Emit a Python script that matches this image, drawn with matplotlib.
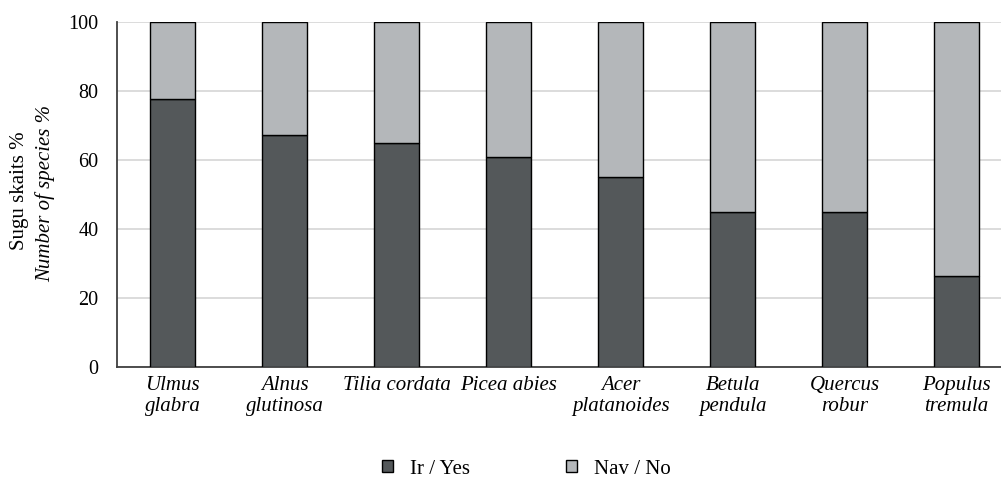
import matplotlib.pyplot as plt
import numpy as np

species = ['Ulmus\nglabra', 'Alnus\nglutinosa', 'Tilia cordata', 'Picea abies',
           'Acer\nplatanoides', 'Betula\npendula', 'Quercus\nrobur', 'Populus\ntremula']
yes_pct = [77.6, 67.3, 65.1, 61.0, 55.2, 44.9, 44.9, 26.4]
no_pct = [100 - v for v in yes_pct]
y_ticks = [0, 20, 40, 60, 80, 100]

plt.rcParams['font.family'] = ['Liberation Serif', 'DejaVu Serif']

W, H = 1001, 478
fig = plt.figure(figsize=(W / 100, H / 100), dpi=100)
# plot area runs past the right edge of the picture, as in the reference
left, right, bottom, top = 116.7, 1012.7, 367.3, 22.1
ax = fig.add_axes([left / W, 1 - bottom / H, (right - left) / W, (bottom - top) / H])

x = np.arange(len(species))
bw = 45.3 / 112
ax.bar(x, yes_pct, width=bw, color='#54585a', edgecolor='black', linewidth=1.0,
       label='Ir / Yes', zorder=3)
ax.bar(x, no_pct, width=bw, bottom=yes_pct, color='#b4b7ba', edgecolor='black',
       linewidth=1.0, label='Nav / No', zorder=3)

ax.set_xlim(-0.5, len(species) - 0.5)
ax.set_ylim(0, 100)
ax.set_yticks(y_ticks)
ax.yaxis.grid(True, color='#d9d9d9', linewidth=1.3, zorder=0)
ax.set_axisbelow(True)
for s in ['top', 'right']:
    ax.spines[s].set_visible(False)
ax.spines['left'].set_color('#404040')
ax.spines['bottom'].set_color('#404040')
ax.spines['left'].set_linewidth(1.3)
ax.spines['bottom'].set_linewidth(1.3)

ax.tick_params(axis='y', length=0, pad=13, labelsize=14.5)
ax.tick_params(axis='x', length=0, pad=6)
ax.set_xticks(x)
ax.set_xticklabels(species, fontsize=15, style='italic', linespacing=1.2)

fig.text(19.5 / W, 1 - 191 / H, 'Sugu skaits %', rotation=90, fontsize=15,
         ha='center', va='center')
fig.text(45 / W, 1 - 194 / H, 'Number of species %', rotation=90, fontsize=15,
         style='italic', ha='center', va='center')

fig.legend(loc='center', bbox_to_anchor=(526 / W, 1 - 469 / H), ncol=2,
           frameon=False, fontsize=15, handlelength=0.55, handleheight=0.55,
           handletextpad=0.8, columnspacing=4.6)

fig.savefig('out.png', dpi=100)
plt.close('all')
